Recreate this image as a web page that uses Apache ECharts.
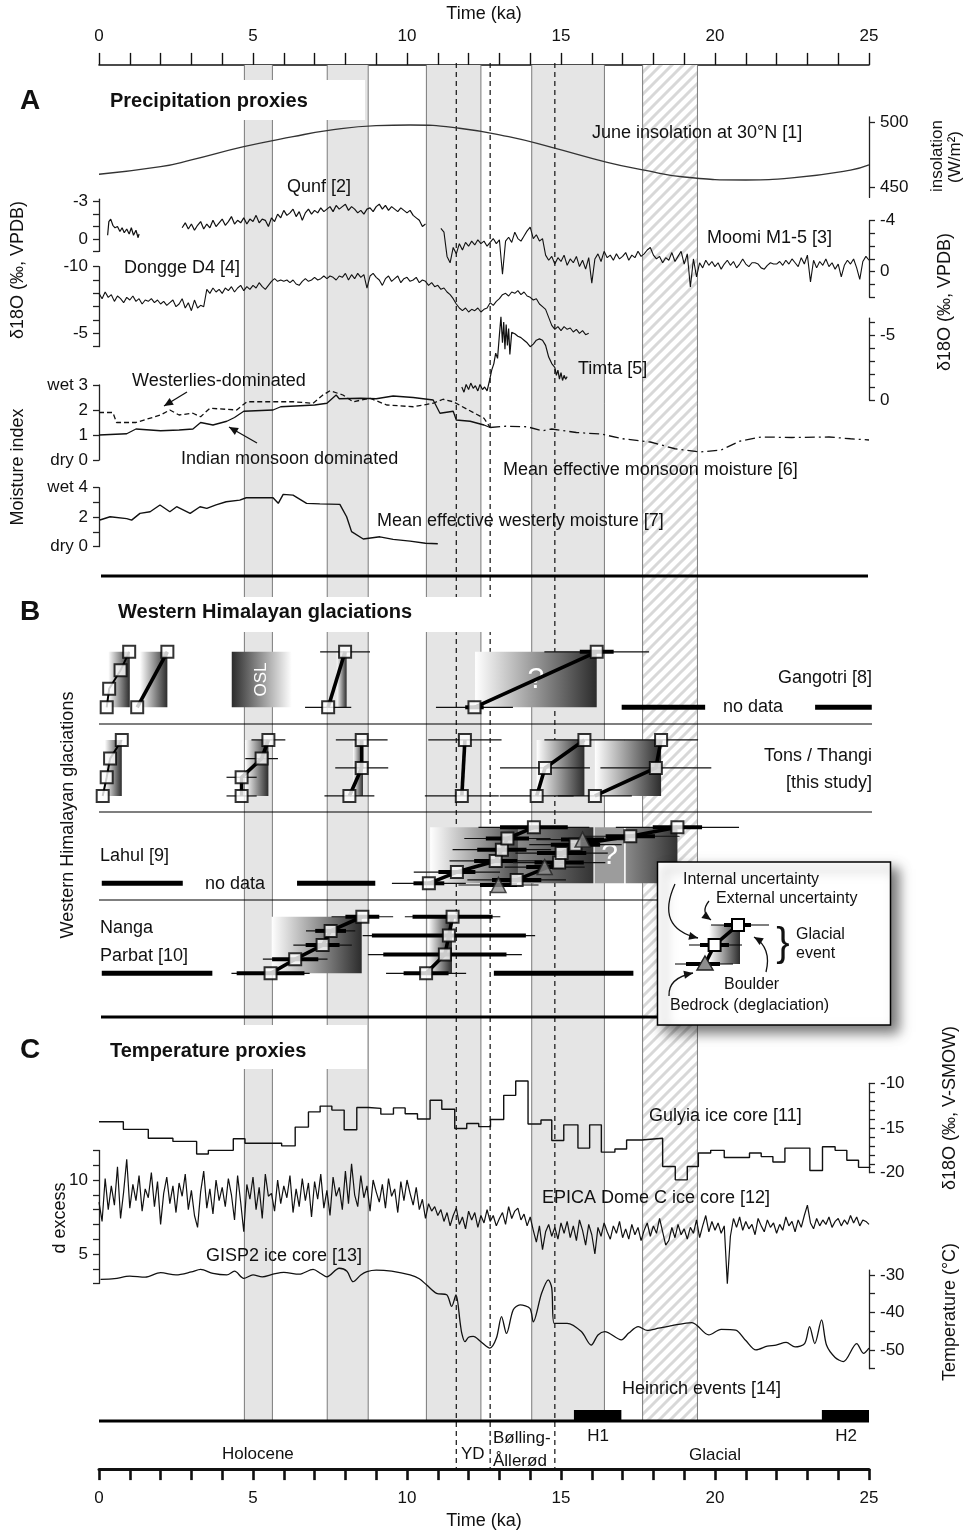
<!DOCTYPE html>
<html><head><meta charset="utf-8">
<script src="https://cdn.jsdelivr.net/npm/echarts@6.0.0/dist/echarts.min.js"></script>
<style>html,body{margin:0;padding:0;background:#fff}#c{width:967px;height:1535px}</style>
</head><body><div id="c"></div>
<script>
const FONT = '"Liberation Sans", Arial, Helvetica, sans-serif';
// ---------------- DATA ----------------
const timeTicksLabels = [0,5,10,15,20,25];
const bandStart = [4.72, 7.41, 10.63, 14.05, 17.65];
const bandEnd   = [5.63, 8.74, 12.40, 16.41, 19.43];
const bandHatched = [0,0,0,0,1];
const dashedAt = [11.6, 12.7, 14.8];
const heinStart = [15.42, 23.47];
const heinEnd   = [16.96, 25.0];

const insAges = [0,2,3,4.7,6.3,7.4,9,10.1,11.7,13.3,14.7,16.5,17.7,19,21,22.5,24.4,25];
const insVals = [459.8,465.6,470.8,481,488.7,493.3,497.2,497.7,495.2,488.7,480.5,469,463,457.7,455.4,457,463,467];

const qunf1 = [[0.28,-0.3],[0.32,-1.4],[0.38,-1.6],[0.45,-1.1],[0.52,-0.9],[0.6,-1.0],[0.68,-0.6],[0.75,-0.9],[0.82,-0.5],[0.9,-0.8],[0.98,-0.4],[1.05,-0.9],[1.12,-0.3],[1.2,-0.7],[1.27,-0.1],[1.3,-0.4]];
const qunf2Start = 2.7, qunf2Step = 0.1;
const qunf2Vals = [-0.9,-1.3,-0.8,-1.2,-0.7,-1.1,-1.4,-0.8,-1.2,-0.9,
-1.5,-1.0,-1.3,-1.6,-1.1,-1.4,-1.8,-1.2,-1.5,-1.3,
-1.7,-1.2,-1.6,-1.4,-1.9,-1.3,-1.6,-1.5,-1.0,-1.7,
-1.4,-2.0,-1.7,-2.3,-1.9,-2.1,-2.4,-1.8,-2.2,-1.5,
-2.1,-2.4,-2.0,-2.3,-2.1,-2.5,-2.2,-2.4,-2.6,-2.2,
-2.7,-2.4,-2.6,-2.8,-2.3,-2.6,-2.4,-2.1,-2.3,-2.0,
-2.4,-2.5,-2.2,-2.6,-2.8,-2.4,-2.7,-2.3,-2.6,-2.4,
-2.2,-2.5,-2.3,-2.1,-2.3,-1.9,-1.7,-1.5,-1.0,-1.2];

const moomiStart = 11.1, moomiStep = 0.1;
const moomiVals = [-3.4,-3.1,-1.2,-0.7,-1.9,-1.4,-2.2,-1.7,-2.3,-2.0,
-2.4,-2.1,-2.5,-2.2,-2.4,-2.0,-2.3,-2.6,-2.2,-2.5,
0.2,-2.4,-2.7,-2.3,-3.1,-2.6,-2.4,-2.8,-3.2,-3.5,
-2.6,-2.9,-2.4,-2.6,-1.3,-0.9,-1.2,-0.6,-1.1,-0.8,
-1.3,-0.5,-1.0,-0.7,-1.2,-0.4,-0.9,-0.2,-1.1,0.9,
-1.0,-1.4,-0.8,-1.6,-1.1,-1.3,-0.9,-1.4,-1.0,-1.2,
-1.5,-0.9,-1.3,-1.1,-1.6,-1.2,-1.4,-1.7,-1.9,-1.3,
-1.0,-1.2,-0.7,-1.1,-0.9,-1.5,-0.8,-1.2,-1.6,-0.6,
-1.4,1.2,-1.0,0.4,-0.7,-0.3,-0.9,-0.5,-0.8,-0.4,
-0.7,-0.2,-0.6,-0.9,-0.5,-0.8,-0.3,-0.6,-1.0,-0.6,
-0.4,-0.7,-0.7,-0.6,-0.3,-0.2,-0.5,-0.7,-0.6,-0.6,
-0.8,-0.5,-0.9,-0.6,-1.0,-0.7,-0.4,-1.1,-0.6,-1.3,
0.8,-0.9,-0.3,-0.8,-0.5,-1.0,-0.4,-0.7,-0.2,-0.6,
0.4,-0.5,-0.9,-0.6,-1.0,-0.3,0.6,-0.8,-1.2,-0.9];

const donggeStart = 0, donggeStep = 0.1;
const donggeVals = [-8.0,-7.6,-8.1,-7.7,-7.9,-7.4,-7.8,-7.6,-7.3,-7.7,
-7.5,-7.8,-7.4,-7.6,-7.2,-7.5,-7.4,-7.6,-7.3,-7.5,
-7.2,-7.4,-7.1,-7.3,-7.5,-7.0,-7.2,-7.6,-6.9,-7.3,
-6.7,-7.5,-6.9,-7.1,-7.0,-8.3,-8.0,-8.4,-8.1,-8.3,
-8.0,-8.4,-8.2,-8.5,-8.1,-8.4,-8.6,-8.2,-8.5,-8.3,
-8.6,-8.4,-8.8,-8.5,-8.3,-8.6,-8.9,-9.1,-8.9,-9.0,
-8.9,-9.0,-8.8,-9.0,-8.7,-8.6,-8.9,-9.1,-8.9,-9.0,
-9.2,-9.0,-9.1,-9.3,-9.1,-9.3,-9.2,-9.0,-9.3,-9.2,
-9.5,-9.0,-9.4,-9.1,-9.5,-9.2,-9.4,-8.4,-9.3,-9.5,
-9.2,-9.0,-8.6,-9.1,-9.3,-8.9,-9.1,-9.3,-8.8,-9.1,
-9.2,-8.9,-9.0,-9.2,-8.8,-9.0,-8.9,-8.6,-8.8,-8.5,
-8.6,-8.3,-8.4,-8.1,-7.9,-7.6,-7.2,-6.9,-6.7,-6.9,
-6.6,-6.8,-6.7,-6.9,-6.6,-6.8,-6.9,-7.3,-7.1,-7.4,
-7.6,-7.9,-8.0,-7.8,-8.1,-8.0,-8.2,-7.9,-8.1,-7.8,
-7.7,-7.5,-7.6,-7.2,-7.0,-6.8,-6.2,-5.6,-5.3,-5.5,
-5.2,-5.5,-5.3,-5.4,-5.1,-5.3,-5.0,-5.2,-4.9,-5.0];

const timta = [[11.78,-1.0],[11.85,-0.6],[11.92,-1.2],[12.0,-0.8],[12.07,-1.3],[12.15,-0.9],[12.22,-1.1],[12.3,-0.7],[12.37,-1.2],[12.45,-0.8],[12.52,-1.0],[12.6,-0.7],[12.68,-1.5],[12.75,-2.3],[12.82,-2.8],[12.88,-3.6],[12.94,-3.2],[13.0,-5.0],[13.05,-6.4],[13.1,-4.4],[13.14,-6.0],[13.18,-3.9],[13.22,-5.8],[13.26,-4.2],[13.3,-5.5],[13.34,-3.5],[13.4,-5.2],[13.5,-5.1],[13.6,-4.9],[13.7,-4.8],[13.8,-4.6],[13.9,-4.4],[14.0,-4.1],[14.1,-4.3],[14.2,-4.6],[14.3,-4.7],[14.4,-4.6],[14.5,-4.2],[14.6,-3.3],[14.7,-2.8],[14.8,-2.5],[14.85,-1.9],[14.9,-2.3],[14.95,-1.6],[15.0,-2.1],[15.05,-1.5],[15.1,-1.9],[15.15,-1.6],[15.2,-1.8]];

const monsoonDom = [[0,1.0],[0.9,1.05],[1.2,1.24],[2.0,1.17],[2.6,1.2],[3.05,1.24],[3.3,1.5],[3.7,1.4],[4.15,1.55],[4.4,1.7],[4.7,1.95],[5.65,2.0],[5.9,2.13],[7.0,2.2],[7.4,2.27],[7.7,2.6],[7.8,2.45],[8.5,2.47],[9.0,2.45],[9.55,2.56],[10.2,2.5],[10.85,2.4],[11.07,1.87],[11.5,1.95],[11.6,1.6],[12.05,1.55],[12.5,1.4],[12.7,1.3]];
const westerliesDom = [[0,1.9],[0.45,1.9],[0.57,1.5],[1.2,1.5],[2.0,1.8],[2.3,2.0],[2.6,1.8],[3.05,1.87],[3.3,1.73],[3.6,2.07],[4.47,2.0],[4.8,2.33],[6.3,2.33],[6.95,2.27],[7.27,2.6],[7.5,2.77],[7.92,2.6],[8.25,2.33],[8.8,2.47],[9.34,2.2],[10.2,2.13],[10.85,2.27],[11.17,2.43],[11.5,2.33],[12.5,1.67],[12.7,1.3]];
const meanMonsoon = [[12.7,1.3],[13.2,1.35],[13.9,1.33],[14.4,1.17],[14.7,1.24],[15.5,1.1],[16.3,1.04],[17.0,0.85],[17.9,0.72],[18.7,0.45],[19.5,0.32],[20.2,0.4],[20.8,0.75],[21.5,0.92],[22.5,0.9],[23.7,0.92],[24.4,0.85],[25,0.8]];
const meanWesterly = [[0.03,1.81],[0.36,2.03],[0.9,1.9],[1.06,1.8],[1.33,2.26],[1.66,2.37],[1.98,2.83],[2.3,2.37],[2.52,2.71],[2.96,2.26],[3.28,2.71],[3.5,2.6],[3.8,2.83],[4.13,3.05],[4.57,3.16],[4.78,3.32],[5.65,3.32],[5.82,2.94],[5.98,3.55],[6.3,3.5],[6.74,2.94],[7.17,2.9],[7.82,2.87],[8.04,2.03],[8.2,1.02],[8.58,0.52],[9.12,0.67],[9.55,0.5],[10.1,0.38],[10.6,0.23],[11.0,0.2]];

const gulyiaEdges = [0,0.79,1.6,2.4,3.17,3.55,4.36,4.74,5.93,6.37,6.8,7.18,7.56,7.96,8.37,8.75,9.15,9.56,9.94,10.34,10.75,11.13,11.55,11.94,12.33,12.71,13.14,13.53,13.93,14.35,14.7,15.09,15.55,15.93,16.31,16.75,17.13,17.62,18.3,18.71,19.1,19.46,19.86,20.3,21.12,21.5,21.88,22.27,23.08,23.49,23.9,24.28,24.66,25.05];
const gulyiaVals = [-14.3,-15.15,-16.15,-16.5,-17.9,-17.5,-16.2,-16.7,-17.0,-14.9,-13.2,-12.55,-13.0,-15.2,-12.7,-12.8,-13.45,-12.75,-13.4,-14.0,-11.9,-12.9,-15.05,-14.5,-14.85,-14.05,-11.35,-9.75,-14.55,-14.1,-16.4,-14.65,-17.25,-14.65,-17.7,-17.35,-16.35,-16.15,-19.3,-20.8,-19.3,-17.8,-17.5,-18.3,-17.8,-18.2,-18.8,-17.25,-19.75,-17.1,-17.5,-18.6,-19.4];

const epicaStart = 0, epicaStep = 0.1;
const epicaVals = [8.5,7.2,10.1,8.0,9.6,8.3,10.9,7.4,9.2,11.4,8.1,
9.7,8.6,10.3,7.9,9.4,8.8,10.5,8.2,9.9,7.0,
9.1,10.2,8.4,9.6,7.8,9.8,8.9,10.4,8.0,9.3,
7.6,6.8,9.2,10.6,8.1,9.4,7.7,10.0,8.6,9.5,
8.2,10.1,9.0,7.3,10.3,8.5,6.5,9.7,8.7,10.2,
8.0,9.5,7.4,10.4,8.9,9.1,7.9,10.0,8.4,9.6,
8.8,10.3,7.8,9.4,8.2,10.1,8.6,9.8,7.5,9.9,
8.7,10.4,8.1,9.3,7.6,10.2,8.9,9.5,8.0,10.6,
8.4,11.1,9.0,8.2,10.3,8.8,9.6,7.9,10.0,9.2,
8.5,9.7,8.1,10.1,8.9,9.4,7.8,9.9,8.6,10.0,
9.1,8.3,9.5,8.0,8.7,7.4,8.4,7.9,8.2,7.6,
8.0,7.2,7.8,6.9,7.6,8.1,7.0,7.5,6.7,7.9,
7.3,7.8,6.8,7.6,7.1,8.0,7.2,7.6,6.9,7.4,
7.8,7.0,8.2,7.4,7.9,8.1,7.3,7.7,6.9,7.5,
6.6,5.8,6.9,5.3,6.5,7.0,6.2,6.8,6.0,7.1,
6.4,7.2,6.1,6.9,5.9,7.3,6.6,5.6,7.0,6.3,
5.0,6.8,6.2,7.1,6.5,6.0,6.9,6.4,7.2,6.1,
6.7,6.0,7.0,6.3,6.8,5.9,6.6,7.1,6.2,6.9,
6.4,7.4,6.5,5.6,5.9,6.8,6.1,7.0,6.3,6.7,
6.0,6.8,6.4,7.3,6.1,6.9,7.6,6.5,7.2,6.6,
7.1,6.4,6.9,3.0,6.2,7.4,6.8,7.5,6.6,7.2,
6.7,7.0,6.3,7.4,6.9,6.5,7.3,6.8,7.1,6.4,
7.0,6.6,7.5,6.9,7.2,6.5,7.3,6.8,7.6,8.3,
7.1,6.7,7.4,6.9,7.3,7.0,7.5,6.8,7.2,7.4,
6.9,7.3,7.0,7.6,7.1,7.5,6.9,7.3,7.2,7.0];

const gisp2 = [[0.05,-31.2],[0.5,-31.0],[1.0,-30.3],[1.5,-30.6],[2.0,-29.4],[2.5,-30.0],[3.0,-29.2],[3.3,-28.5],[3.7,-29.6],[4.15,-30.0],[4.4,-29.0],[4.7,-30.9],[5.0,-30.0],[5.3,-30.5],[5.65,-29.8],[6.0,-29.3],[6.5,-29.8],[6.95,-28.5],[7.2,-29.6],[7.4,-30.5],[7.8,-28.2],[8.05,-29.0],[8.25,-31.8],[8.5,-30.0],[8.7,-29.1],[9.0,-28.7],[9.5,-29.0],[10.1,-30.0],[10.4,-31.0],[10.64,-32.7],[10.96,-34.9],[11.29,-35.3],[11.45,-38.4],[11.59,-35.3],[11.73,-43.0],[11.78,-45.6],[11.88,-47.8],[12.0,-46.6],[12.15,-46.4],[12.4,-47.8],[12.69,-49.5],[12.9,-46.9],[13.07,-41.1],[13.23,-45.6],[13.45,-39.3],[13.67,-38.0],[13.99,-38.9],[14.1,-42.5],[14.37,-34.9],[14.59,-31.3],[14.7,-33.5],[14.78,-42.9],[15.2,-42.9],[15.66,-45.1],[15.98,-48.7],[16.2,-46.0],[16.42,-45.1],[16.96,-47.3],[17.2,-45.5],[17.51,-43.8],[17.8,-44.8],[18.17,-44.2],[18.6,-43.5],[19.25,-42.7],[19.8,-46.0],[20.2,-44.5],[20.67,-44.7],[21.0,-47.5],[21.33,-50.0],[21.7,-49.0],[21.98,-48.7],[22.31,-48.0],[22.6,-49.2],[22.91,-48.3],[23.07,-43.8],[23.24,-48.3],[23.46,-42.0],[23.62,-48.7],[23.9,-52.0],[24.17,-53.1],[24.6,-48.3],[24.82,-50.9],[25.0,-49.5]];

// glacial chronologies: [event, age ka, level, external err, internal err, bedrock?]
const gangotriSamples = [[1,0.25,1,0,0],[1,0.33,2,0,0],[1,0.70,3,0,0],[1,0.98,4,0,0],[2,1.24,1,0,0],[2,2.22,4,0,0],[3,7.44,1,0.75,0],[3,7.99,4,0.81,0],[4,12.19,1,1.25,0.3],[4,16.16,4,1.7,0.55]];
const gangotriBoxes = [[0.30,1.0,1,4,1,''],[1.33,2.22,1,4,1,''],[4.31,6.26,1,4,-1,'OSL'],[7.72,8.04,1,4,1,''],[12.21,16.16,1,4,1,'?']];
const gangotriNoData = [[16.97,19.68],[23.25,25.09]];
const tonsSamples = [[1,0.12,1,0,0],[1,0.25,2,0,0],[1,0.36,3,0,0],[1,0.74,4,0,0],[2,4.63,1,0.49,0],[2,4.63,2,0.49,0],[2,5.28,3,0.53,0],[2,5.5,4,0.55,0],[3,8.13,1,0.81,0],[3,8.53,2.5,0.86,0],[3,8.53,4,0.84,0],[4,11.78,1,1.2,0],[4,11.88,4,1.19,0],[5,14.21,1,1.2,0],[5,14.48,2.5,1.46,0],[5,15.76,4,1.3,0],[6,16.1,1,1.2,0],[6,18.08,2.5,1.8,0],[6,18.25,4,1.2,0]];
const tonsBoxes = [[0.19,0.74,1,4,1,''],[4.74,5.5,1,4,1,''],[8.25,8.57,1,4,1,''],[14.21,15.76,1,4,1,''],[16.1,18.25,1,4,1,'']];
const lahulSamples = [[1,10.71,1,1.2,0.5],[1,11.62,2,1.4,0.6],[1,12.88,3,1.5,0.7],[1,13.08,4,1.6,0.8],[1,13.26,5,1.4,0.7],[1,14.12,6,1.8,1.1],[2,13.56,1.3,1.6,0.8],[2,14.94,2.85,1.5,0.8],[2,15.02,3.7,1.5,0.8],[2,15.47,4.45,1.5,0.8],[2,17.25,5.2,1.6,0.8],[2,18.78,6,2.0,0.8],[0,12.97,0.85,1.3,0.6,1],[0,14.47,2.45,1.3,0.6,1],[0,15.70,4.9,1.5,0.7,1]];
const lahulBoxes = [[10.75,14.12,1,6,1,''],[13.6,16.05,1,6,2,''],[16.1,17.05,1,6,3,'?'],[17.1,18.78,1,6,2,'']];
const lahulNoData = [[0.09,2.72],[6.43,8.97]];
const nangaSamples = [[1,5.57,1,1.27,1.1],[1,6.37,2,1.05,0.75],[1,7.26,3,0.95,0.55],[1,7.52,4,0.8,0.5],[1,8.55,5,1.0,0.55],[2,10.62,1,1.3,0.73],[2,11.23,2.33,2.5,2.0],[2,11.36,3.67,2.8,2.5],[2,11.48,5,1.55,1.3]];
const nangaBoxes = [[5.6,8.53,1,5,1,''],[10.68,11.46,1,5,1,'']];
const nangaNoData = [[0.09,3.68],[12.82,17.35]];

// ---------------- BUILD ----------------
const r2 = v => Math.round(v*100)/100;
const seq = (start, step, vals) => vals.map((v,i)=>[r2(start+i*step), v]);

const grids=[], xAxes=[], yAxes=[], series=[], graphics=[];
function addGrid(top, height, yopt, xopt){
  const gi = grids.length;
  grids.push({left:99, width:770, top:top, height:height});
  xAxes.push(Object.assign({gridIndex:gi, type:'value', min:0, max:25, show:false, splitLine:{show:false}}, xopt||{}));
  yAxes.push(Object.assign({gridIndex:gi, type:'value', min:0, max:1, show:false, splitLine:{show:false}}, yopt||{}));
  return gi;
}
function axisY(pos, min, max, inverse, ticks, labels, fmt){
  return {show:true, position:pos, min:min, max:max, inverse:!!inverse,
    axisLine:{show:true, onZero:false, lineStyle:{color:'#222', width:1.3}},
    axisTick:{show:true, inside:false, length:6, customValues:ticks, lineStyle:{color:'#222', width:1.3}},
    axisLabel:{show:true, customValues:labels, formatter:fmt, fontSize:17, color:'#111', fontFamily:FONT, margin:11},
    splitLine:{show:false}};
}
function lineS(gi, data, opt){
  return Object.assign({type:'line', xAxisIndex:gi, yAxisIndex:gi, data:data, symbol:'none', clip:false, silent:true, z:5,
    lineStyle:{color:'#111', width:1.2}}, opt||{});
}
const timeAxisCommon = {show:true, interval:1, axisLine:{show:true, onZero:false, lineStyle:{color:'#111', width:1.6}},
  axisTick:{show:true, inside:false, length:12, lineStyle:{color:'#111', width:1.4}},
  axisLabel:{show:true, customValues:timeTicksLabels, fontSize:17, color:'#111', fontFamily:FONT, margin:20},
  name:'Time (ka)', nameLocation:'middle', nameTextStyle:{fontSize:18, color:'#111', fontFamily:FONT}};

// hatch pattern
const pc = document.createElement('canvas'); pc.width = 11; pc.height = 11;
const pctx = pc.getContext('2d'); pctx.fillStyle = '#fff'; pctx.fillRect(0,0,11,11);
pctx.strokeStyle = '#d8d8d8'; pctx.lineWidth = 3; pctx.beginPath();
pctx.moveTo(-2,2); pctx.lineTo(2,-2); pctx.moveTo(-1,12); pctx.lineTo(12,-1); pctx.moveTo(9,13); pctx.lineTo(13,9); pctx.stroke();
const hatch = {image: pc, repeat: 'repeat'};

// background bands
const gBands = addGrid(63, 1358, null, Object.assign({}, timeAxisCommon, {position:'top', nameGap:34}));
series.push({type:'custom', xAxisIndex:gBands, yAxisIndex:gBands, z:1, silent:true,
  data: bandStart.map((s,i)=>[s, bandEnd[i], bandHatched[i]]),
  renderItem:(p, api)=>{
    const a = api.coord([api.value(0),1]), b = api.coord([api.value(1),0]);
    return {type:'group', children:[
      {type:'rect', shape:{x:a[0], y:a[1], width:b[0]-a[0], height:b[1]-a[1]}, style:{fill: api.value(2) ? hatch : '#e5e5e5'}},
      {type:'line', shape:{x1:a[0], y1:a[1], x2:a[0], y2:b[1]}, style:{stroke:'#7a7a7a', lineWidth:1}},
      {type:'line', shape:{x1:b[0], y1:a[1], x2:b[0], y2:b[1]}, style:{stroke:'#7a7a7a', lineWidth:1}}]};
  }});
const gDash = addGrid(63, 1411, null, Object.assign({}, timeAxisCommon, {position:'bottom', nameGap:41,
  axisLine:{show:true, onZero:false, lineStyle:{color:'#111', width:3}},
  axisTick:{show:true, inside:false, length:11, lineStyle:{color:'#111', width:2.6}},
  axisLabel:{show:true, customValues:timeTicksLabels, fontSize:17, color:'#111', fontFamily:FONT, margin:21}}));
series.push({type:'custom', xAxisIndex:gDash, yAxisIndex:gDash, z:1, silent:true, data: dashedAt.map(d=>[d]),
  renderItem:(p, api)=>{ const a = api.coord([api.value(0),1]), b = api.coord([api.value(0),0]);
    return {type:'line', shape:{x1:a[0], y1:a[1], x2:b[0], y2:b[1]}, style:{stroke:'#111', lineWidth:1.2, lineDash:[5,4]}}; }});

// Section A
const gIns = addGrid(116.8, 80.6, axisY('right', 442, 504, false, [450,500], [450,500]));
series.push(lineS(gIns, insAges.map((t,i)=>[t, insVals[i]]), {smooth:true, lineStyle:{color:'#333', width:1.3}}));
const gQunf = addGrid(199.2, 52.2, axisY('left', -3.2, 1, true, [-3,-2,-1,0,1], [-3,0]));
series.push(lineS(gQunf, qunf1));
series.push(lineS(gQunf, seq(qunf2Start, qunf2Step, qunf2Vals)));
const gMoomi = addGrid(220.7, 76.5, axisY('right', -4, 2, true, [-4,-3,-2,-1,0,1,2], [-4,0]));
series.push(lineS(gMoomi, seq(moomiStart, moomiStep, moomiVals), {lineStyle:{color:'#111', width:1.1}}));
const gDongge = addGrid(266.7, 80, axisY('left', -10, -4, true, [-10,-9,-8,-7,-6,-5,-4], [-10,-5]));
series.push(lineS(gDongge, seq(donggeStart, donggeStep, donggeVals), {lineStyle:{color:'#111', width:1.1}}));
const gTimta = addGrid(318.1, 81.9, axisY('right', -6.3, 0, true, [-6,-5,-4,-3,-2,-1,0], [-5,0]));
series.push(lineS(gTimta, timta));
const gMoist = addGrid(385, 75, axisY('left', 0, 3, false, [0,1,2,3], [0,1,2,3], v => v===3?'wet 3':(v===0?'dry 0':String(v))));
series.push(lineS(gMoist, monsoonDom, {lineStyle:{color:'#111', width:1.3}}));
series.push(lineS(gMoist, westerliesDom, {lineStyle:{color:'#111', width:1.3, type:[5,3]}}));
series.push(lineS(gMoist, meanMonsoon, {lineStyle:{color:'#111', width:1.3, type:[10,4,2,4]}}));
const gWest = addGrid(487.7, 59, axisY('left', 0, 4, false, [0,1,2,3,4], [0,2,4], v => v===4?'wet 4':(v===0?'dry 0':String(v))));
series.push(lineS(gWest, meanWesterly, {lineStyle:{color:'#111', width:1.4}}));

// Section B
function glacierRow(gi, samples, boxes, noData, thinIds){
  series.push({type:'custom', xAxisIndex:gi, yAxisIndex:gi, z:4, silent:true, data: boxes.map(b=>[b[0],b[1],b[2],b[3]]),
    renderItem:(p, api)=>{
      const b = boxes[p.dataIndex]; const a = api.coord([b[0], b[3]]), c = api.coord([b[1], b[2]]);
      let fill;
      if (b[4] === 1) fill = new echarts.graphic.LinearGradient(0,0,1,0,[{offset:0,color:'#ffffff'},{offset:1,color:'#2c2c2c'}]);
      else if (b[4] === -1) fill = new echarts.graphic.LinearGradient(0,0,1,0,[{offset:0,color:'#2c2c2c'},{offset:1,color:'#ffffff'}]);
      else if (b[4] === 2) fill = new echarts.graphic.LinearGradient(0,0,1,0,[{offset:0,color:'#8a8a8a'},{offset:1,color:'#333333'}]);
      else fill = '#9c9c9c';
      const ch = [{type:'rect', shape:{x:a[0], y:a[1], width:c[0]-a[0], height:c[1]-a[1]}, style:{fill:fill}}];
      if (b[5]) {
        const osl = b[5] === 'OSL';
        ch.push({type:'text', x:(a[0]+c[0])/2, y:(a[1]+c[1])/2, rotation: osl ? Math.PI/2 : 0,
          style:{text:b[5], fill:'#fff', font:(osl?'17px ':'30px ')+FONT, textAlign:'center', textVerticalAlign:'middle', align:'center', verticalAlign:'middle'}});
      }
      return {type:'group', children:ch};
    }});
  series.push({type:'custom', xAxisIndex:gi, yAxisIndex:gi, z:6, silent:true, data: samples.map(s=>[s[1], s[2]]),
    renderItem:(p, api)=>{
      const s = samples[p.dataIndex]; const ch = [];
      if (s[3] > 0) { const a = api.coord([s[1]-s[3], s[2]]), b = api.coord([s[1]+s[3], s[2]]);
        ch.push({type:'line', shape:{x1:a[0], y1:a[1], x2:b[0], y2:b[1]}, style:{stroke:'#111', lineWidth:1.2}}); }
      if (s[4] > 0) { const a = api.coord([s[1]-s[4], s[2]]), b = api.coord([s[1]+s[4], s[2]]);
        ch.push({type:'line', shape:{x1:a[0], y1:a[1], x2:b[0], y2:b[1]}, style:{stroke:'#000', lineWidth:4}}); }
      return {type:'group', children:ch};
    }});
  const ids = [...new Set(samples.filter(s=>s[0]>0).map(s=>s[0]))];
  ids.forEach(id => {
    series.push(lineS(gi, samples.filter(s=>s[0]===id).map(s=>[s[1], s[2]]), {z:7, lineStyle:{color:'#000', width: thinIds.includes(id) ? 2 : 3.6}}));
  });
  series.push({type:'scatter', xAxisIndex:gi, yAxisIndex:gi, z:8, silent:true, clip:false, symbol:'rect', symbolSize:12,
    itemStyle:{color:'#fff', borderColor:'#000', borderWidth:2}, data: samples.filter(s=>!s[5]).map(s=>[s[1], s[2]])});
  series.push({type:'scatter', xAxisIndex:gi, yAxisIndex:gi, z:8, silent:true, clip:false, symbol:'triangle', symbolSize:15,
    itemStyle:{color:'#8e8e8e', borderColor:'#222', borderWidth:1.5}, data: samples.filter(s=>s[5]===1).map(s=>[s[1], s[2]])});
  series.push({type:'custom', xAxisIndex:gi, yAxisIndex:gi, z:6, silent:true, data: noData.map(d=>[d[0], d[1]]),
    renderItem:(p, api)=>{ const a = api.coord([api.value(0),1]), b = api.coord([api.value(1),1]);
      return {type:'line', shape:{x1:a[0], y1:a[1], x2:b[0], y2:b[1]}, style:{stroke:'#000', lineWidth:5}}; }});
}
glacierRow(addGrid(633.3, 92.5, {min:0, max:5}), gangotriSamples, gangotriBoxes, gangotriNoData, [1]);
glacierRow(addGrid(721.3, 93.3, {min:0, max:5}), tonsSamples, tonsBoxes, [], [1]);
glacierRow(addGrid(816.1, 78.4, {min:0, max:7}), lahulSamples, lahulBoxes, lahulNoData, []);
glacierRow(addGrid(902.6, 84.9, {min:0, max:6}), nangaSamples, nangaBoxes, nangaNoData, []);

// Section C
const gGul = addGrid(1083.3, 89.4, axisY('right', -20, -10, false, [-20,-19,-18,-17,-16,-15,-14,-13,-12,-11,-10], [-20,-15,-10]));
const gulData = gulyiaVals.map((v,i)=>[gulyiaEdges[i], v]); gulData.push([gulyiaEdges[gulyiaEdges.length-1], gulyiaVals[gulyiaVals.length-1]]);
series.push(lineS(gGul, gulData, {step:'end', lineStyle:{color:'#111', width:1.4}}));
const gEpica = addGrid(1150.4, 133.2, axisY('left', 3, 12, false, [3,4,5,6,7,8,9,10,11,12], [5,10]));
series.push(lineS(gEpica, seq(epicaStart, epicaStep, epicaVals), {lineStyle:{color:'#111', width:1.2}}));
const gGisp = addGrid(1270.1, 98.6, axisY('right', -55, -28.7, false, [-55,-50,-45,-40,-35,-30], [-50,-40,-30]));
series.push(lineS(gGisp, gisp2, {smooth:0.3, lineStyle:{color:'#111', width:1.3}}));
const gHein = addGrid(1410, 11);
series.push({type:'custom', xAxisIndex:gHein, yAxisIndex:gHein, z:6, silent:true, data: heinStart.map((s,i)=>[s, heinEnd[i]]),
  renderItem:(p, api)=>{ const a = api.coord([api.value(0),1]), b = api.coord([api.value(1),0]);
    return {type:'rect', shape:{x:a[0], y:a[1], width:b[0]-a[0], height:b[1]-a[1]}, style:{fill:'#000'}}; }});

// ---------------- GRAPHICS (text, frames, legend) ----------------
function txt(text, x, y, o){ o = o||{};
  graphics.push({type:'text', z:o.z||10, x:x, y:y, rotation:o.rot||0, silent:true,
    style:{text:text, fill:o.color||'#111', font:(o.bold?'bold ':'')+(o.size||18)+'px '+FONT,
      textAlign:o.align||'left', textVerticalAlign:'middle', align:o.align||'left', verticalAlign:'middle'}});
}
function hline(x1, x2, y, w, z){ graphics.push({type:'line', z:z||10, silent:true, shape:{x1:x1, y1:y, x2:x2, y2:y}, style:{stroke:'#000', lineWidth:w}}); }
function head(x, y, a, z){ const L=9, W=4;
  graphics.push({type:'polygon', z:z, silent:true, shape:{points:[[x,y],[x-L*Math.cos(a)+W*Math.sin(a), y-L*Math.sin(a)-W*Math.cos(a)],[x-L*Math.cos(a)-W*Math.sin(a), y-L*Math.sin(a)+W*Math.cos(a)]]}, style:{fill:'#111'}}); }
function arrow(x1,y1,x2,y2,z){ graphics.push({type:'line', z:z, silent:true, shape:{x1,y1,x2,y2}, style:{stroke:'#111', lineWidth:1.3}}); head(x2,y2,Math.atan2(y2-y1,x2-x1),z); }
function carrow(x1,y1,cx,cy,x2,y2,z){ graphics.push({type:'bezierCurve', z:z, silent:true, shape:{x1,y1,x2,y2,cpx1:cx,cpy1:cy}, style:{stroke:'#111', lineWidth:1.3, fill:'none'}}); head(x2,y2,Math.atan2(y2-cy,x2-cx),z); }

// title backgrounds
graphics.push({type:'rect', z:3, silent:true, shape:{x:100, y:80, width:265, height:40}, style:{fill:'#fff'}});
graphics.push({type:'rect', z:3, silent:true, shape:{x:100, y:597, width:420, height:35}, style:{fill:'#fff'}});
graphics.push({type:'rect', z:3, silent:true, shape:{x:100, y:1025, width:267, height:44}, style:{fill:'#fff'}});
// frames
hline(101, 868, 576, 3); hline(99, 872, 724, 1.2); hline(99, 872, 812, 1.2); hline(99, 872, 900, 1.2);
hline(101, 868, 1017, 3); hline(99, 869, 1421, 3);

txt('A', 30, 101, {bold:true, size:28, align:'center'});
txt('Precipitation proxies', 110, 101, {bold:true, size:20});
txt('B', 30, 612, {bold:true, size:28, align:'center'});
txt('Western Himalayan glaciations', 118, 612, {bold:true, size:20});
txt('C', 30, 1050, {bold:true, size:28, align:'center'});
txt('Temperature proxies', 110, 1051, {bold:true, size:20});

txt('June insolation at 30°N [1]', 592, 133);
txt('Qunf [2]', 287, 187);
txt('Moomi M1-5 [3]', 707, 238);
txt('Dongge D4 [4]', 124, 268);
txt('Timta [5]', 578, 369);
txt('Westerlies-dominated', 132, 381);
txt('Indian monsoon dominated', 181, 459);
txt('Mean effective monsoon moisture [6]', 503, 470);
txt('Mean effective westerly moisture [7]', 377, 521);
arrow(187, 392, 164, 406, 10);
arrow(257, 443, 229, 427, 10);

txt('δ18O (‰, VPDB)', 18, 270, {rot:Math.PI/2, align:'center'});
txt('Moisture index', 18, 467, {rot:Math.PI/2, align:'center'});
txt('δ18O (‰, VPDB)', 945, 302, {rot:Math.PI/2, align:'center'});
txt('insolation', 937, 156, {rot:Math.PI/2, align:'center', size:17});
txt('(W/m²)', 955, 157, {rot:Math.PI/2, align:'center', size:17});
txt('Western Himalayan glaciations', 68, 815, {rot:Math.PI/2, align:'center'});
txt('d excess', 60, 1218, {rot:Math.PI/2, align:'center'});
txt('δ18O (‰, V-SMOW)', 950, 1108, {rot:Math.PI/2, align:'center'});
txt('Temperature (°C)', 950, 1312, {rot:Math.PI/2, align:'center'});

txt('Gangotri [8]', 872, 678, {align:'right'});
txt('no data', 723, 707);
txt('Tons / Thangi', 872, 756, {align:'right'});
txt('[this study]', 872, 783, {align:'right'});
txt('Lahul [9]', 100, 856);
txt('no data', 205, 884);
txt('Nanga', 100, 928);
txt('Parbat [10]', 100, 956);

txt('Gulyia ice core [11]', 649, 1116);
txt('EPICA Dome C ice core [12]', 542, 1198);
txt('GISP2 ice core [13]', 206, 1256);
txt('Heinrich events [14]', 622, 1389);
txt('H1', 598, 1436, {align:'center', size:17});
txt('H2', 846, 1436, {align:'center', size:17});
txt('Holocene', 222, 1454, {size:17});
txt('YD', 461, 1454, {size:17});
txt('Bølling-', 493, 1438, {size:17});
txt('Ållerød', 493, 1461, {size:17});
txt('Glacial', 689, 1455, {size:17});

// legend box
graphics.push({type:'rect', z:20, silent:true, shape:{x:657.5, y:862, width:233, height:163},
  style:{fill:'#fff', stroke:'#000', lineWidth:1.5, shadowBlur:12, shadowOffsetX:7, shadowOffsetY:7, shadowColor:'rgba(0,0,0,0.55)'}});
graphics.push({type:'rect', z:21, silent:true, shape:{x:709, y:925, width:31, height:39},
  style:{fill:new echarts.graphic.LinearGradient(0,0,1,0,[{offset:0,color:'#ffffff'},{offset:1,color:'#2c2c2c'}])}});
[[711,769,925,1.2],[689,742,945,1.2],[675,733,964,1.2],[724,751,925,4],[700,729,945,4],[686,720,964,4]].forEach(l=>hline(l[0],l[1],l[2],l[3],22));
graphics.push({type:'polyline', z:23, silent:true, shape:{points:[[705,964],[714.6,945],[738,925]]}, style:{stroke:'#000', lineWidth:3.6, fill:'none'}});
graphics.push({type:'rect', z:24, silent:true, shape:{x:732, y:919, width:12, height:12}, style:{fill:'#fff', stroke:'#000', lineWidth:2}});
graphics.push({type:'rect', z:24, silent:true, shape:{x:708.6, y:939, width:12, height:12}, style:{fill:'#fff', stroke:'#000', lineWidth:2}});
graphics.push({type:'polygon', z:24, silent:true, shape:{points:[[705,956],[713,970],[697,970]]}, style:{fill:'#8e8e8e', stroke:'#222', lineWidth:1.5}});
txt('Internal uncertainty', 683, 880, {z:25, size:16});
txt('External uncertainty', 716, 899, {z:25, size:16});
txt('}', 783, 945, {z:25, size:40, align:'center'});
txt('Glacial', 796, 935, {z:25, size:16});
txt('event', 796, 954, {z:25, size:16});
txt('Boulder', 724, 985, {z:25, size:16});
txt('Bedrock (deglaciation)', 670, 1006, {z:25, size:16});
carrow(675, 884, 655, 928, 698, 938, 25);
carrow(709, 901, 700, 912, 711, 920, 25);
carrow(766, 972, 772, 948, 754, 937, 25);
carrow(669, 996, 668, 978, 693, 973, 25);

const chart = echarts.init(document.getElementById('c'));
chart.setOption({animation:false, backgroundColor:'#fff', textStyle:{fontFamily:FONT},
  grid:grids, xAxis:xAxes, yAxis:yAxes, series:series, graphic:{elements:graphics}});
</script></body></html>
